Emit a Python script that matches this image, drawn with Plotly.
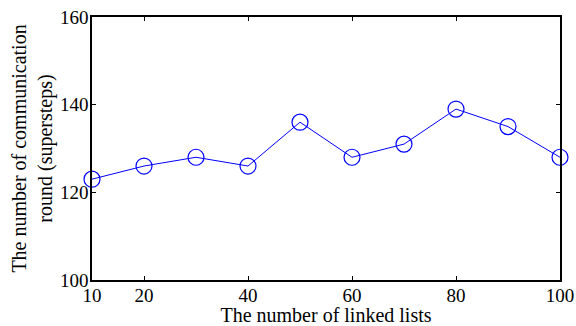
import plotly.graph_objects as go

x_vals = [10, 20, 30, 40, 50, 60, 70, 80, 90, 100]
y_vals = [123, 126, 128, 126, 136, 128, 131, 139, 135, 128]
x_ticks = [10, 20, 40, 60, 80, 100]
y_ticks = [100, 120, 140, 160]

FONT = "Liberation Serif"

fig = go.Figure()
fig.add_trace(go.Scatter(
    x=x_vals, y=y_vals, mode="lines+markers",
    line=dict(color="#0000ff", width=1),
    marker=dict(symbol="circle-open", size=16, color="#0000ff", line=dict(width=1.2)),
    cliponaxis=False,
))

tick_font = dict(family=FONT, size=19, color="black")
title_font = dict(family=FONT, size=20, color="black")
fig.update_layout(
    width=576, height=326,
    margin=dict(l=92, r=16, t=17, b=46, autoexpand=False),
    paper_bgcolor="white", plot_bgcolor="white",
    showlegend=False,
    font=dict(family=FONT, color="black"),
)
fig.update_xaxes(
    range=[10, 100], tickvals=x_ticks, ticktext=[str(v) for v in x_ticks],
    ticks="inside", ticklen=4, tickwidth=1, tickcolor="black",
    showline=True, linecolor="black", linewidth=1.5, mirror="ticks",
    showgrid=False, zeroline=False, automargin=False,
    tickfont=tick_font, ticklabelstandoff=-3,
    title=dict(text="The number of linked lists", font=title_font, standoff=0),
)
fig.update_yaxes(
    range=[100, 160], tickvals=y_ticks, ticktext=[str(v) for v in y_ticks],
    ticks="inside", ticklen=4, tickwidth=1, tickcolor="black",
    showline=True, linecolor="black", linewidth=1.5, mirror="ticks",
    showgrid=False, zeroline=False, automargin=False,
    tickfont=tick_font, ticklabelstandoff=-2,
    title=dict(text="The number of communication<br>round (supersteps)", font=title_font, standoff=2),
)
fig.write_html(
    "out.html",
    config={"displayModeBar": False},
    post_script="document.body.style.margin='0';document.body.style.overflow='hidden';",
)
